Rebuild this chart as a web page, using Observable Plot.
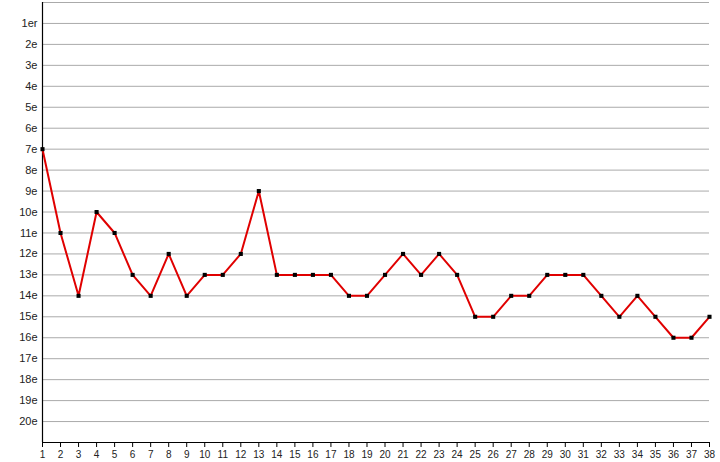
<!DOCTYPE html>
<html>
<head>
<meta charset="utf-8">
<script src="https://cdn.jsdelivr.net/npm/d3@7"></script>
<script src="https://cdn.jsdelivr.net/npm/@observablehq/plot@0.6"></script>
<style>
  html, body { margin: 0; padding: 0; background: #fff; }
  svg { display: block; }
</style>
</head>
<body>
<div id="chart"></div>
<script>
const journees = d3.range(1, 39);
const classement = [7, 11, 14, 10, 11, 13, 14, 12, 14, 13, 13, 12, 9, 13, 13, 13, 13, 14, 14, 13,
                    12, 13, 12, 13, 15, 15, 14, 14, 13, 13, 13, 14, 15, 14, 15, 16, 16, 15];
const rangTicks = d3.range(1, 21);
const rangLabels = ["1er", "2e", "3e", "4e", "5e", "6e", "7e", "8e", "9e", "10e",
                    "11e", "12e", "13e", "14e", "15e", "16e", "17e", "18e", "19e", "20e"];
const gridValues = d3.range(0, 21);

const data = journees.map((j, i) => ({j, r: classement[i]}));

const chart = Plot.plot({
  width: 720,
  height: 462,
  marginLeft: 42,
  marginRight: 11,
  marginTop: 2,
  marginBottom: 20,
  style: {fontFamily: "'Liberation Sans', Arial, Helvetica, sans-serif", background: "#fff", color: "#222"},
  x: {domain: [1, 38]},
  y: {domain: [21, 0]},
  marks: [
    Plot.ruleY(gridValues, {stroke: "#aaa", strokeWidth: 1, strokeOpacity: 1}),
    Plot.axisY(rangTicks, {tickSize: 0, tickPadding: 5, fontSize: 11, tickFormat: d => rangLabels[d - 1], label: null}),
    Plot.axisX(journees, {tickSize: 5, tickPadding: 3, fontSize: 10, label: null, stroke: "#000", strokeOpacity: 1}),
    Plot.ruleX([1], {y1: 0, y2: 21, stroke: "#000", strokeWidth: 1.2}),
    Plot.ruleY([21], {stroke: "#000", strokeWidth: 1.2}),
    Plot.line(data, {x: "j", y: "r", stroke: "#e00000", strokeWidth: 2}),
    Plot.dot(data, {x: "j", y: "r", symbol: "square", r: 2.3, fill: "#000", stroke: "none"})
  ]
});
document.getElementById("chart").appendChild(chart);
</script>
</body>
</html>
